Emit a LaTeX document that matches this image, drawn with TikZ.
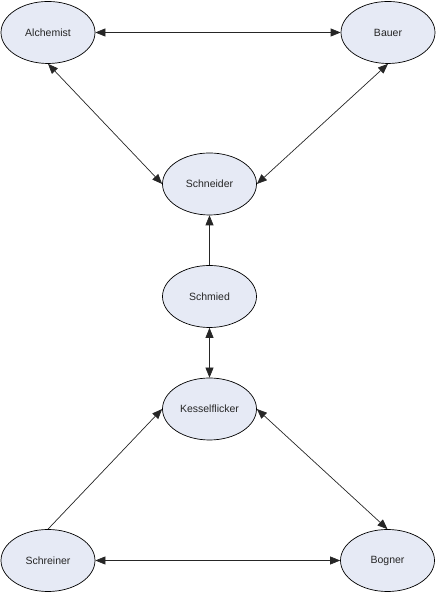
\documentclass[tikz,border=0pt]{standalone}
\usepackage{fontspec}
\setmainfont{Liberation Sans}
\usetikzlibrary{arrows.meta,shapes.geometric}
\definecolor{nodefill}{HTML}{E6EAF5}
\tikzset{
  role/.style={ellipse, draw=black, line width=0.7pt, fill=nodefill,
    minimum width=94pt, minimum height=62pt, inner sep=0pt,
    font=\fontsize{10.5}{12}\selectfont, text=black!85},
  link/.style={line width=0.7pt, draw=black!85,
    {Triangle[length=10pt,width=8pt]}-{Triangle[length=10pt,width=8pt]}},
  onelink/.style={line width=0.7pt, draw=black!85,
    -{Triangle[length=10pt,width=8pt]}}
}
\begin{document}
\begin{tikzpicture}[x=1pt,y=1pt]
\useasboundingbox (0,0) rectangle (436,593);
\node[role] (alc) at (48,560.5) {Alchemist};
\node[role] (bau) at (388,560.5) {Bauer};
\node[role] (sne) at (209.5,409) {Schneider};
\node[role] (smi) at (209.5,296.5) {Schmied};
\node[role] (kes) at (209.5,184) {Kesselflicker};
\node[role] (sre) at (48,32.5) {Schreiner};
\node[role] (bog) at (387.5,32.5) {Bogner};
\draw[link] (alc.east) -- (bau.west);
\draw[link] (alc.south) -- (sne.west);
\draw[link] (bau.south) -- (sne.east);
\draw[onelink] (smi.north) -- (sne.south);
\draw[link] (smi.south) -- (kes.north);
\draw[onelink] (sre.north) -- (kes.west);
\draw[link] (kes.east) -- (bog.north);
\draw[link] (sre.east) -- (bog.west);
\end{tikzpicture}
\end{document}
